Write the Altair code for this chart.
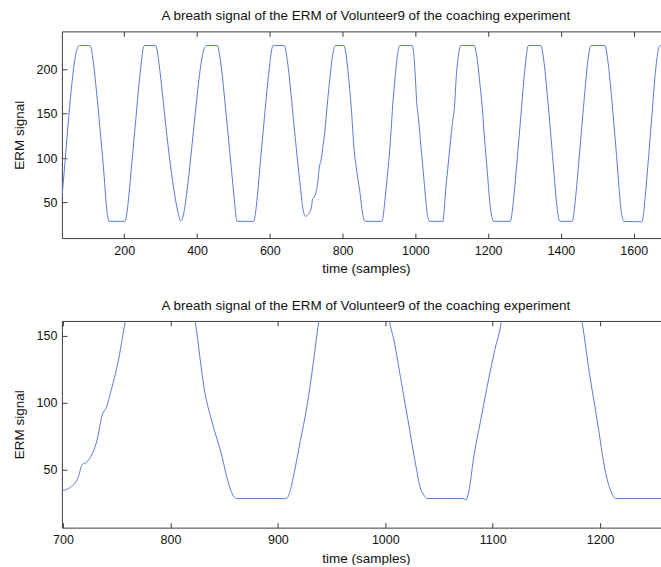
import altair as alt
import pandas as pd

TITLE = "A breath signal of the ERM of Volunteer9 of the coaching experiment"
X_TITLE = "time (samples)"
Y_TITLE = "ERM signal"

time_samples = [
    29, 35, 45, 55, 62, 67, 72, 76,
    106, 110, 115, 125, 135, 145, 150, 154, 158, 202,
    206, 212, 222, 232, 242, 248, 252, 256, 286,
    290, 296, 305, 315, 325, 335, 343, 349, 355,
    360, 367, 375, 385, 395, 405, 413, 419, 425, 456,
    460, 466, 475, 485, 495, 502, 506, 510, 556,
    560, 566, 575, 585, 595, 601, 605, 609, 640,
    644, 650, 660, 670, 680, 686, 690, 694, 698,
    700, 706, 714, 718, 722, 726, 731, 737, 740, 745, 751, 758, 765, 771, 776, 781, 804,
    808, 813, 818, 823, 832, 839, 848, 853, 857, 862, 908,
    911, 915, 921, 927, 933, 938, 944, 949, 953, 957, 991,
    995, 999, 1004, 1008, 1015, 1022, 1028, 1033, 1036, 1039, 1073, 1075,
    1078, 1082, 1089, 1096, 1102, 1108, 1112, 1117, 1121, 1125, 1162,
    1166, 1172, 1177, 1183, 1190, 1197, 1205, 1210, 1215, 1261,
    1265, 1271, 1280, 1290, 1298, 1303, 1307, 1311, 1345,
    1349, 1355, 1365, 1375, 1383, 1389, 1393, 1397, 1431,
    1435, 1441, 1450, 1460, 1468, 1474, 1479, 1483, 1521,
    1525, 1531, 1541, 1551, 1559, 1565, 1569, 1573, 1622,
    1626, 1632, 1641, 1650, 1658, 1664, 1669, 1673, 1690,
]
erm_values = [
    57, 85, 135, 180, 205, 218, 225, 227,
    227, 222, 208, 170, 125, 78, 50, 35, 28.5, 28.5,
    35, 55, 100, 145, 190, 212, 224, 227, 227,
    222, 205, 172, 133, 98, 68, 48, 36, 29,
    32, 46, 72, 110, 150, 188, 212, 223, 227, 227,
    221, 205, 170, 128, 85, 55, 38, 28.5, 28.5,
    36, 58, 100, 145, 188, 210, 222, 227, 227,
    221, 204, 165, 122, 82, 60, 45, 37, 34,
    34.5, 36.5, 44, 54, 55.7, 60, 70, 92, 96, 110, 129.5, 161, 190, 212, 223, 227, 227,
    221, 205, 184, 161, 108, 85, 60, 43, 33, 28.5, 28.5,
    33, 47, 72, 97, 130, 161, 190, 210, 222, 227, 227,
    220, 198, 161, 147, 115, 83, 55, 35.4, 31, 28.5, 28.5, 27.5,
    35, 57.7, 88, 117, 140, 161, 190, 212, 223, 227, 227,
    221, 205, 185, 161, 122, 88, 48, 34, 28.5, 28.5,
    36, 58, 100, 148, 188, 208, 222, 227, 227,
    221, 203, 160, 112, 72, 45, 33, 28.5, 28.5,
    36, 58, 100, 148, 185, 210, 223, 227, 227,
    221, 203, 160, 112, 70, 42, 32, 28.5, 28,
    34, 58, 102, 148, 190, 213, 225, 227, 227,
]

top_x_ticks = [200, 400, 600, 800, 1000, 1200, 1400, 1600]
top_y_ticks = [50, 100, 150, 200]
bottom_x_ticks = [700, 800, 900, 1000, 1100, 1200]
bottom_y_ticks = [50, 100, 150]
top_x_domain = [28.6, 1675]
top_y_domain = [9.6, 243]
bottom_x_domain = [699, 1256.6]
bottom_y_domain = [6.8, 161.2]

LINE = "#5a7bd6"
FRAME = "#3c3c3c"
TEXT = "#111111"
FONT = "Liberation Sans"

df = pd.DataFrame({"t": time_samples, "v": erm_values})


def panel(xdom, ydom, xticks, yticks):
    xs = alt.Scale(domain=xdom, nice=False, zero=False)
    ys = alt.Scale(domain=ydom, nice=False, zero=False)
    base = alt.Chart(df)
    main = base.mark_line(color=LINE, strokeWidth=1, clip=True, interpolate="monotone").encode(
        x=alt.X("t:Q", scale=xs, axis=alt.Axis(
            orient="bottom", values=xticks, format="d", title=X_TITLE, grid=False,
            domain=True, domainColor=FRAME, domainWidth=1, ticks=False, tickSize=0,
            labelPadding=6, labelFontSize=12.5, labelFont=FONT, labelColor=TEXT,
            titleFontSize=13.5, titleFont=FONT, titleColor=TEXT, titleFontWeight="normal",
            titlePadding=5, titleX=304.5, labelFlush=False)),
        y=alt.Y("v:Q", scale=ys, axis=alt.Axis(
            orient="left", values=yticks, format="d", title=Y_TITLE, grid=False,
            domain=True, domainColor=FRAME, domainWidth=1, ticks=False, tickSize=0,
            labelPadding=5, labelFontSize=12.5, labelFont=FONT, labelColor=TEXT,
            titleFontSize=13.5, titleFont=FONT, titleColor=TEXT, titleFontWeight="normal",
            titlePadding=10, labelFlush=False)),
    )
    ticks_in = base.mark_line(opacity=0, clip=True).encode(
        x=alt.X("t:Q", scale=xs, axis=alt.Axis(
            orient="bottom", values=xticks, title=None, grid=False, domain=False,
            labels=False, ticks=True, tickSize=5, tickColor=FRAME, offset=-5)),
        y=alt.Y("v:Q", scale=ys, axis=alt.Axis(
            orient="left", values=yticks, title=None, grid=False, domain=False,
            labels=False, ticks=True, tickSize=5, tickColor=FRAME, offset=-5)),
    )
    top_frame = base.mark_line(opacity=0, clip=True).encode(
        x=alt.X("t:Q", scale=xs, axis=alt.Axis(
            orient="top", values=xticks, title=None, grid=False, domain=True,
            domainColor=FRAME, labels=False, ticks=False, tickSize=0)),
        y=alt.Y("v:Q", scale=ys, axis=None),
    )
    top_ticks = base.mark_line(opacity=0, clip=True).encode(
        x=alt.X("t:Q", scale=xs, axis=alt.Axis(
            orient="top", values=xticks, title=None, grid=False, domain=False,
            labels=False, ticks=True, tickSize=5, tickColor=FRAME, offset=-5)),
        y=alt.Y("v:Q", scale=ys, axis=None),
    )
    return alt.layer(main, ticks_in, top_frame, top_ticks).resolve_axis(
        x="independent", y="independent"
    ).properties(
        width=600, height=207,
        title=alt.TitleParams(TITLE, fontSize=13.5, font=FONT, fontWeight="normal",
                              color=TEXT, anchor="middle", offset=8, dx=4.5),
    )


top = panel(top_x_domain, top_y_domain, top_x_ticks, top_y_ticks)
bottom = panel(bottom_x_domain, bottom_y_domain, bottom_x_ticks, bottom_y_ticks)

chart = alt.vconcat(top, bottom, spacing=24).properties(
    padding={"left": 12, "top": 9, "right": 0, "bottom": 0},
    background="white",
).configure_view(strokeOpacity=0)

chart.save("out.html", embed_options={"renderer": "svg", "actions": False})
